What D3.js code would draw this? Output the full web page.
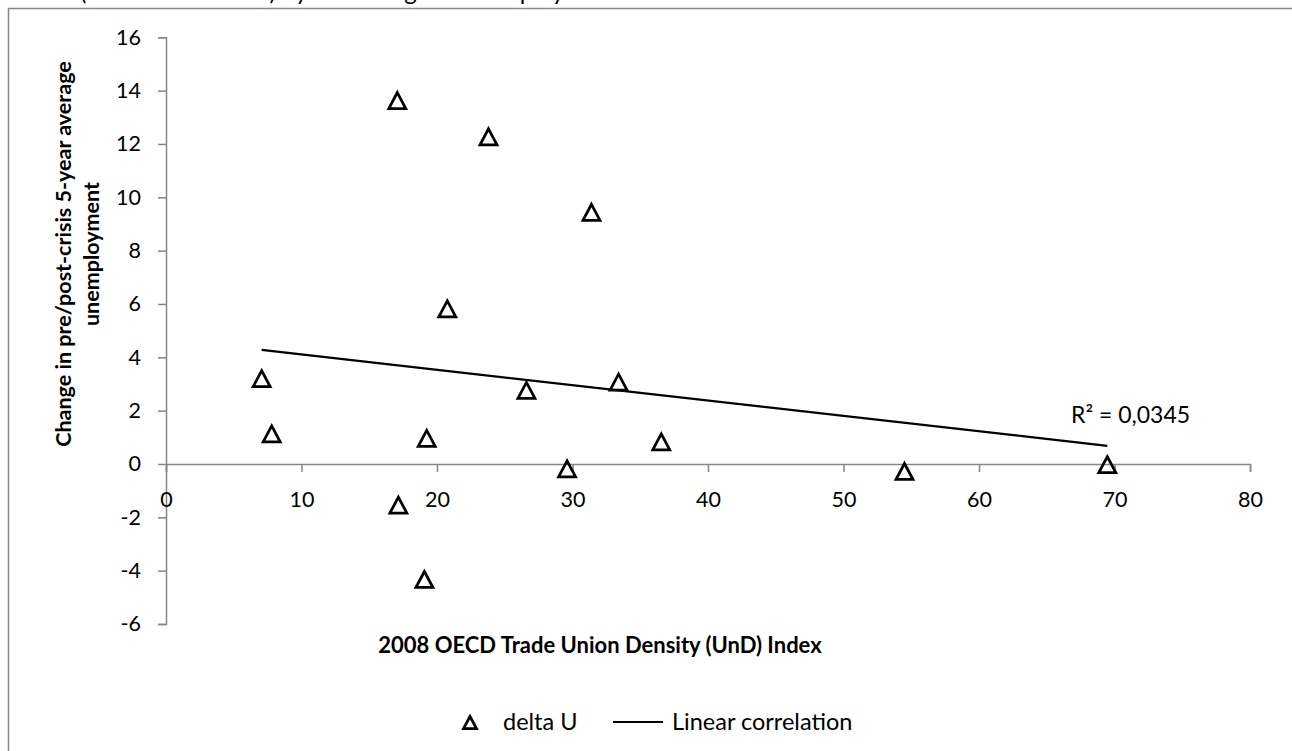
<!DOCTYPE html>
<html>
<head>
<meta charset="utf-8">
<script src="https://cdn.jsdelivr.net/npm/d3@7"></script>
<style>
  body { margin: 0; background: #fff; }
  svg { display: block; font-family: Lato, "Open Sans", sans-serif; }
</style>
</head>
<body>
<div id="container"></div>
<script>
// values
const unionDensity = [7.06, 7.8, 17.07, 17.15, 19.07, 19.24, 20.76, 23.8, 26.6, 29.6, 31.4, 33.4, 36.55, 54.5, 69.47];
const deltaU = [3.18, 1.11, 13.61, -1.56, -4.35, 0.94, 5.8, 12.25, 2.74, -0.2, 9.42, 3.05, 0.81, -0.3, -0.04];
const xTicks = [0, 10, 20, 30, 40, 50, 60, 70, 80];
const yTicks = [-6, -4, -2, 0, 2, 4, 6, 8, 10, 12, 14, 16];
const seriesNames = ["delta U", "Linear correlation"];
const rSquaredLabel = "R² = 0,0345";
const xTitle = "2008 OECD Trade Union Density (UnD) Index";
const yTitleLines = ["Change in pre/post-crisis 5-year average", "unemployment"];
const captionText = "(2008 OECD UnD) by the change in unemployment";

const width = 1292, height = 751;
const axisColor = "#868686";

const svg = d3.select("#container")
    .append("svg")
    .attr("width", width)
    .attr("height", height);

// caption line of the document, only its lower edge shows above the chart frame
svg.append("text")
    .attr("x", 80)
    .attr("y", 0)
    .attr("font-size", 24)
    .attr("fill", "#000")
    .text(captionText);

// chart frame
svg.append("rect")
    .attr("x", 8.5)
    .attr("y", 8.5)
    .attr("width", 1400)
    .attr("height", 900)
    .attr("fill", "#fff")
    .attr("stroke", axisColor)
    .attr("stroke-width", 1.5);

const x = d3.scaleLinear().domain([0, 80]).range([166, 1250]);
const y = d3.scaleLinear().domain([-6, 16]).range([624, 37.3]);

// y axis
const yAxis = svg.append("g")
    .attr("transform", `translate(${x(0)},0)`)
    .call(d3.axisLeft(y).tickValues(yTicks).tickSize(8).tickPadding(17).tickFormat(d => String(d)));

// x axis sits on y = 0
const xAxis = svg.append("g")
    .attr("transform", `translate(0,${y(0)})`)
    .call(d3.axisBottom(x).tickValues(xTicks).tickSize(8).tickPadding(20).tickFormat(d => String(d)));

[xAxis, yAxis].forEach(g => {
    g.selectAll("path, line").attr("stroke", axisColor).attr("stroke-width", 1.5);
    g.selectAll("text").attr("fill", "#000").attr("font-size", 21.5).attr("font-family", "Lato, sans-serif");
});

// axis titles
svg.append("text")
    .attr("x", 600)
    .attr("y", 653)
    .attr("text-anchor", "middle")
    .attr("font-size", 22)
    .attr("font-weight", "bold")
    .text(xTitle);

const yTitle = svg.append("text")
    .attr("transform", "translate(0,254) rotate(-90)")
    .attr("text-anchor", "middle")
    .attr("font-size", 21.5)
    .attr("font-weight", "bold");
yTitleLines.forEach((line, i) => {
    yTitle.append("tspan")
        .attr("x", 0)
        .attr("y", 71 + i * 28)
        .text(line);
});

// least squares trend line
const points = unionDensity.map((v, i) => ({ x: v, y: deltaU[i] }));
const mx = d3.mean(points, d => d.x), my = d3.mean(points, d => d.y);
const slope = d3.sum(points, d => (d.x - mx) * (d.y - my)) / d3.sum(points, d => (d.x - mx) ** 2);
const intercept = my - slope * mx;
const [xMin, xMax] = d3.extent(unionDensity);
const trend = [xMin, xMax].map(v => [x(v), y(intercept + slope * v)]);

const triangle = "M0,-8.5L8.5,7.5L-8.5,7.5Z";

svg.append("g")
    .selectAll("path")
    .data(points)
    .enter()
    .append("path")
    .attr("transform", d => `translate(${x(d.x)},${y(d.y)})`)
    .attr("d", triangle)
    .attr("fill", "none")
    .attr("stroke", "#000")
    .attr("stroke-width", 2.75)
    .attr("stroke-linejoin", "miter");

svg.append("path")
    .attr("d", d3.line()(trend))
    .attr("stroke", "#000")
    .attr("stroke-width", 2.2)
    .attr("fill", "none");

svg.append("text")
    .attr("x", 1071)
    .attr("y", 423)
    .attr("font-size", 23)
    .text(rSquaredLabel);

// legend
const legend = svg.append("g").attr("transform", "translate(0,722)");
legend.append("path")
    .attr("transform", "translate(470,1)")
    .attr("d", "M0,-6.5L6.5,5.5L-6.5,5.5Z")
    .attr("fill", "none")
    .attr("stroke", "#000")
    .attr("stroke-width", 2.75);
legend.append("text")
    .attr("x", 503)
    .attr("y", 8)
    .attr("font-size", 23.5)
    .text(seriesNames[0]);
legend.append("line")
    .attr("x1", 613).attr("x2", 663)
    .attr("y1", 0).attr("y2", 0)
    .attr("stroke", "#000")
    .attr("stroke-width", 2.2);
legend.append("text")
    .attr("x", 672)
    .attr("y", 8)
    .attr("font-size", 23.5)
    .text(seriesNames[1]);
</script>
</body>
</html>
